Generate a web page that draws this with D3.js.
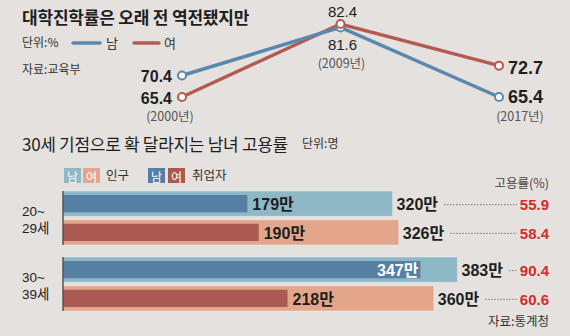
<!DOCTYPE html>
<html><head><meta charset="utf-8">
<script src="https://cdn.jsdelivr.net/npm/d3@7"></script>
<style>
html,body{margin:0;padding:0;background:#e4e1de;}
svg{display:block;}
text{font-family:'Noto Sans CJK KR','Noto Sans',sans-serif;}
.num{font-family:'Liberation Sans Narrow','Liberation Sans','Noto Sans CJK KR',sans-serif;}
.lab{font-family:'Liberation Sans','Noto Sans CJK KR',sans-serif;}
</style></head>
<body>
<script>
// ---- data ----
const years = ['2000', '2009', '2017'];
const maleRate = [70.4, 81.6, 65.4];
const femaleRate = [65.4, 82.4, 72.7];

const ageGroups = ['20~29세', '30~39세'];
const malePop = [320, 383];
const femalePop = [326, 360];
const maleEmp = [179, 347];
const femaleEmp = [190, 218];
const maleEmpRate = [55.9, 90.4];
const femaleEmpRate = [58.4, 60.6];

// ---- setup ----
const W = 570, H = 336;
const svg = d3.select('body').append('svg').attr('width', W).attr('height', H);
svg.append('rect').attr('width', W).attr('height', H).attr('fill', '#e4e1de');

const C = {
  lineBlue: '#5b89ae', lineRed: '#b45a53',
  popBlue: '#8eb8c5', empBlue: '#5680a3',
  popRed: '#e4a68b', empRed: '#a95b53',
  rate: '#d42b2b', text: '#1e1e1e', grey: '#444'
};

// ---- top: line chart ----
svg.append('text').attr('x', 22).attr('y', 24).attr('font-size', 17).attr('font-weight', 'bold')
  .attr('fill', C.text).attr('letter-spacing', -0.2).text('대학진학률은 오래 전 역전됐지만');
svg.append('text').attr('x', 22).attr('y', 47).attr('font-size', 12).attr('fill', '#333').text('단위:%');
svg.append('line').attr('x1', 73).attr('x2', 100).attr('y1', 43).attr('y2', 43)
  .attr('stroke', C.lineBlue).attr('stroke-width', 3.5).attr('stroke-linecap', 'round');
svg.append('text').attr('x', 106).attr('y', 48).attr('font-size', 13).attr('fill', '#333').text('남');
svg.append('line').attr('x1', 134).attr('x2', 159).attr('y1', 43).attr('y2', 43)
  .attr('stroke', C.lineRed).attr('stroke-width', 3.5).attr('stroke-linecap', 'round');
svg.append('text').attr('x', 164).attr('y', 48).attr('font-size', 13).attr('fill', '#333').text('여');
svg.append('text').attr('x', 22).attr('y', 74).attr('font-size', 12).attr('fill', '#333').text('자료:교육부');

const xL = d3.scalePoint().domain(years).range([182, 499]);
const yL = d3.scaleLinear().domain([65.4, 82.4]).range([97, 24]);
const line = d3.line().x((d, i) => xL(years[i])).y(d => yL(d));

svg.append('path').datum(femaleRate).attr('d', line).attr('fill', 'none')
  .attr('stroke', C.lineRed).attr('stroke-width', 3.5);
svg.append('path').datum(maleRate).attr('d', line).attr('fill', 'none')
  .attr('stroke', C.lineBlue).attr('stroke-width', 3.5);

[[maleRate, C.lineBlue], [femaleRate, C.lineRed]].forEach(([arr, col]) => {
  svg.selectAll(null).data(arr).enter().append('circle')
    .attr('cx', (d, i) => xL(years[i])).attr('cy', d => yL(d)).attr('r', 4)
    .attr('fill', '#fff').attr('stroke', col).attr('stroke-width', 2);
});

// value labels
const fmt = d3.format('.1f');
function numLabel(x, y, v, size, weight, anchor) {
  svg.append('text').attr('class', 'num').attr('x', x).attr('y', y).attr('font-size', size)
    .attr('font-weight', weight).attr('text-anchor', anchor).attr('dominant-baseline', 'central')
    .attr('fill', C.text).text(fmt(v));
}
// 2000
numLabel(xL(years[0]) - 10, yL(maleRate[0]) + 1, maleRate[0], 16, 'bold', 'end');
numLabel(xL(years[0]) - 10, yL(femaleRate[0]) + 1, femaleRate[0], 16, 'bold', 'end');
// 2009
numLabel(xL(years[1]) + 2, yL(femaleRate[1]) - 13, femaleRate[1], 15, 'normal', 'middle');
numLabel(xL(years[1]) + 2, yL(maleRate[1]) + 17, maleRate[1], 15, 'normal', 'middle');
// 2017
numLabel(xL(years[2]) + 9, yL(femaleRate[2]) + 2, femaleRate[2], 18, 'bold', 'start');
numLabel(xL(years[2]) + 9, yL(maleRate[2]) + 0, maleRate[2], 18, 'bold', 'start');

const yearPos = [[170, 115], [xL(years[1]) + 1, 62], [520, 115]];
years.forEach((yr, i) => {
  svg.append('text').attr('x', yearPos[i][0]).attr('y', yearPos[i][1]).attr('text-anchor', 'middle')
    .attr('dominant-baseline', 'central').attr('font-size', 12.5).attr('fill', '#555').text('(' + yr + '년)');
});

// ---- bottom: bar chart ----
svg.append('text').attr('x', 22).attr('y', 151).attr('font-size', 17).attr('fill', C.text)
  .attr('letter-spacing', -0.3).text('30세 기점으로 확 달라지는 남녀 고용률');
svg.append('text').attr('x', 302).attr('y', 148).attr('font-size', 12).attr('fill', '#333').text('단위:명');

// legend boxes
function box(x, col, t) {
  svg.append('rect').attr('x', x).attr('y', 168).attr('width', 17).attr('height', 15).attr('fill', col);
  svg.append('text').attr('x', x + 8.5).attr('y', 176).attr('text-anchor', 'middle')
    .attr('dominant-baseline', 'central').attr('font-size', 12).attr('fill', '#fff').text(t);
}
box(64, C.popBlue, '남'); box(83, C.popRed, '여');
svg.append('text').attr('x', 106).attr('y', 180).attr('font-size', 12.5).attr('fill', '#333').text('인구');
box(148, C.empBlue, '남'); box(168, C.empRed, '여');
svg.append('text').attr('x', 192).attr('y', 180).attr('font-size', 12.5).attr('fill', '#333').text('취업자');

svg.append('text').attr('x', 549).attr('y', 188).attr('text-anchor', 'end').attr('font-size', 12.5)
  .attr('fill', '#444').text('고용률(%)');

const x = d3.scaleLinear().domain([0, 400]).range([63, 63 + 400 * 1.03]);
const yG = d3.scaleBand().domain(ageGroups).range([191, 311]).paddingInner(12 / 66);
const ySex = d3.scaleBand().domain(['남', '여']).range([0, yG.bandwidth()]).paddingInner(0.12);

const rows = [];
ageGroups.forEach((g, i) => {
  rows.push({ g, sex: '남', pop: malePop[i], emp: maleEmp[i], rate: maleEmpRate[i], pc: C.popBlue, ec: C.empBlue });
  rows.push({ g, sex: '여', pop: femalePop[i], emp: femaleEmp[i], rate: femaleEmpRate[i], pc: C.popRed, ec: C.empRed });
});

const inset = 4;
rows.forEach(r => {
  const y0 = yG(r.g) + ySex(r.sex), h = ySex.bandwidth(), cy = y0 + h / 2;
  svg.append('rect').attr('x', x(0)).attr('y', y0).attr('width', x(r.pop) - x(0)).attr('height', h)
    .attr('fill', r.pc).attr('stroke', 'rgba(255,255,255,0.35)').attr('stroke-width', 1);
  svg.append('rect').attr('x', x(0)).attr('y', y0 + inset).attr('width', x(r.emp) - x(0)).attr('height', h - 2 * inset)
    .attr('fill', r.ec);
  const inside = x(r.pop) - x(r.emp) < 45;
  svg.append('text').attr('class', 'num').attr('x', inside ? x(r.emp) - 2 : x(r.emp) + 5).attr('y', cy + 1)
    .attr('text-anchor', inside ? 'end' : 'start').attr('dominant-baseline', 'central')
    .attr('font-size', 16).attr('font-weight', 'bold').attr('fill', inside ? '#fff' : C.text).text(r.emp + '만');
  const pl = svg.append('text').attr('class', 'num').attr('x', x(r.pop) + 4).attr('y', cy + 1)
    .attr('dominant-baseline', 'central').attr('font-size', 16).attr('font-weight', 'bold')
    .attr('fill', C.text).text(r.pop + '만');
  const pend = x(r.pop) + 4 + pl.node().getComputedTextLength();
  svg.append('line').attr('x1', pend + 6).attr('x2', 517).attr('y1', cy + 1).attr('y2', cy + 1)
    .attr('stroke', '#777').attr('stroke-width', 1).attr('stroke-dasharray', '1.5,1.5');
  svg.append('text').attr('class', 'num').attr('x', 549).attr('y', cy + 1).attr('text-anchor', 'end')
    .attr('dominant-baseline', 'central').attr('font-size', 15).attr('font-weight', 'bold')
    .attr('fill', C.rate).text(fmt(r.rate));
});

// axis lines & group labels
ageGroups.forEach(g => {
  svg.append('line').attr('x1', 63).attr('x2', 63).attr('y1', yG(g)).attr('y2', yG(g) + yG.bandwidth())
    .attr('stroke', '#555').attr('stroke-width', 1.5);
  const t = svg.append('text').attr('class', 'lab').attr('y', yG(g) + 25).attr('font-size', 13.5).attr('fill', C.text);
  t.append('tspan').attr('x', 22).text(g.slice(0, 3));
  t.append('tspan').attr('x', 22).attr('dy', 17).text(g.slice(3));
});

svg.append('text').attr('x', 549).attr('y', 320).attr('text-anchor', 'end').attr('dominant-baseline', 'central')
  .attr('font-size', 12.5).attr('fill', '#333').text('자료:통계청');
</script>
</body></html>
